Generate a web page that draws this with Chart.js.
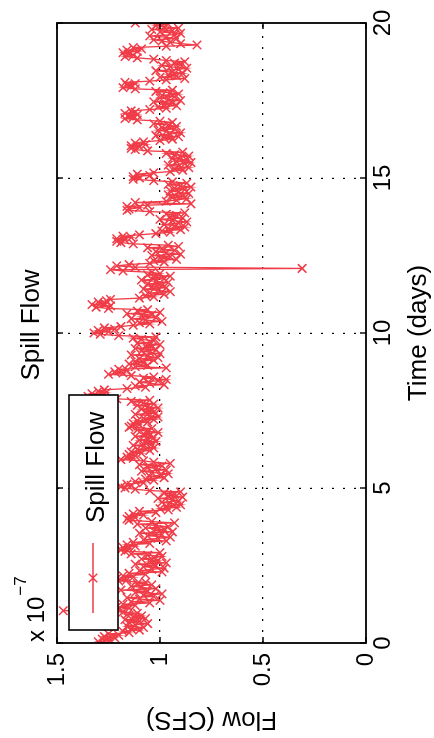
<!DOCTYPE html>
<html lang="en">
<head>
<meta charset="UTF-8">
<title>Spill Flow</title>
<script src="https://cdn.jsdelivr.net/npm/chart.js"></script>
<style>
body {
    margin: 0;
    padding: 0;
    background: #fff;
    overflow: hidden;
}
#page {
    position: relative;
    width: 434px;
    height: 738px;
    overflow: hidden;
}
/* the figure is drawn upright, then turned a quarter turn like the scanned page */
#turn {
    position: absolute;
    left: 0;
    top: 738px;
    width: 738px;
    height: 434px;
    transform-origin: 0 0;
    transform: rotate(-90deg);
}
</style>
</head>
<body>
<div id="page"><div id="turn"><canvas id="spill" width="738" height="434"></canvas></div></div>

<script>
// Spill flow, one row per day, hourly samples, in units of 1e-7 CFS
const spillFlow = [
    [1.26, 1.30, 1.24, 1.28, 1.22, 1.27, 1.20, 1.25, 1.15, 1.18, 1.10, 1.14, 1.08, 1.16, 1.12, 1.06, 1.15, 1.10, 1.17, 1.07, 1.13, 1.09, 1.16, 1.11],
    [1.18, 1.47, 1.20, 1.15, 1.21, 1.12, 1.18, 1.05, 1.14, 1.00, 1.10, 1.16, 1.03, 1.08, 0.99, 1.12, 1.06, 1.19, 1.02, 1.09, 1.14, 1.04, 1.11, 1.07],
    [1.20, 1.16, 1.21, 1.13, 1.18, 1.07, 1.15, 0.99, 1.10, 1.04, 0.98, 1.08, 1.02, 1.12, 0.97, 1.05, 1.01, 1.09, 1.03, 0.99, 1.06, 1.14, 1.00, 1.17],
    [1.19, 1.15, 1.18, 1.12, 1.16, 1.05, 1.13, 0.97, 1.08, 1.01, 0.95, 1.06, 0.99, 1.10, 0.94, 1.03, 0.98, 1.07, 0.96, 1.02, 1.11, 0.93, 1.04, 1.15],
    [1.16, 1.12, 1.15, 1.08, 1.13, 1.02, 1.10, 0.96, 1.00, 0.92, 0.97, 0.90, 0.95, 0.99, 0.91, 0.94, 1.01, 0.89, 0.96, 0.93, 0.98, 0.90, 1.05, 1.12],
    [1.17, 1.19, 1.14, 1.16, 1.08, 1.12, 1.03, 1.07, 0.98, 1.05, 1.00, 0.96, 1.04, 1.09, 0.97, 1.02, 1.06, 0.99, 1.10, 0.95, 1.03, 1.08, 1.19, 1.13],
    [1.16, 1.12, 1.15, 1.09, 1.14, 1.05, 1.11, 1.03, 1.08, 1.13, 1.04, 1.07, 1.02, 1.10, 1.06, 1.03, 1.12, 1.05, 1.08, 1.01, 1.06, 1.11, 1.04, 1.15],
    [1.14, 1.10, 1.13, 1.06, 1.11, 1.03, 1.08, 1.01, 1.05, 1.12, 1.02, 1.07, 1.04, 1.09, 1.01, 1.06, 1.11, 1.03, 1.08, 1.14, 1.05, 1.21, 1.30, 1.35],
    [1.28, 1.33, 1.26, 1.30, 1.27, 1.16, 1.07, 1.12, 0.98, 1.05, 1.10, 1.01, 0.97, 1.08, 1.03, 1.14, 1.25, 1.18, 1.22, 1.16, 1.20, 0.97, 1.12, 1.06],
    [1.15, 1.08, 1.12, 1.03, 1.10, 1.01, 1.06, 1.14, 1.00, 1.05, 1.09, 1.02, 1.12, 1.04, 1.07, 1.00, 1.11, 1.05, 1.03, 1.09, 1.13, 1.02, 1.20, 1.29],
    [1.32, 1.25, 1.30, 1.22, 1.27, 1.19, 1.13, 1.05, 1.10, 0.99, 1.07, 1.14, 1.02, 1.09, 1.04, 1.16, 1.00, 1.11, 1.06, 1.25, 1.31, 1.24, 1.33, 1.27],
    [1.30, 1.26, 1.24, 1.10, 1.03, 1.07, 0.98, 1.05, 0.95, 1.01, 1.08, 0.97, 1.04, 0.99, 1.06, 0.96, 1.02, 1.09, 0.98, 1.03, 0.95, 1.06, 1.00, 1.04],
    [1.18, 1.24, 0.31, 1.12, 1.21, 1.15, 1.05, 0.98, 1.03, 0.92, 1.00, 0.95, 1.04, 0.90, 0.97, 1.02, 0.93, 0.99, 1.06, 0.91, 0.96, 1.13, 1.19, 1.21],
    [1.17, 1.21, 1.14, 1.18, 1.10, 1.02, 0.95, 0.99, 0.90, 0.96, 0.88, 0.93, 0.98, 0.91, 0.87, 0.94, 1.00, 0.89, 0.95, 0.92, 0.97, 0.88, 1.05, 1.16],
    [1.15, 1.10, 1.16, 1.06, 0.85, 1.12, 0.97, 0.92, 0.87, 0.94, 0.89, 0.96, 0.86, 0.91, 0.95, 0.88, 0.93, 0.85, 0.90, 0.96, 0.87, 0.94, 1.03, 1.13],
    [1.10, 1.13, 1.05, 1.11, 1.03, 0.95, 0.89, 0.93, 0.86, 0.91, 0.96, 0.88, 0.85, 0.92, 0.87, 0.94, 0.90, 0.86, 0.93, 0.97, 0.89, 1.06, 1.12, 1.14],
    [1.10, 1.14, 1.07, 1.12, 1.08, 1.00, 0.94, 0.98, 0.91, 1.02, 0.95, 0.90, 0.97, 1.01, 0.93, 0.99, 0.92, 0.96, 1.03, 0.94, 1.00, 1.11, 1.17, 1.13],
    [1.15, 1.11, 1.17, 1.12, 1.14, 1.05, 0.97, 1.01, 0.92, 0.98, 0.94, 1.03, 0.90, 0.96, 1.00, 0.93, 0.99, 0.91, 0.95, 1.02, 0.94, 1.12, 1.18, 1.14],
    [1.16, 1.12, 1.17, 1.05, 0.97, 0.88, 1.00, 0.92, 0.96, 0.89, 0.94, 1.02, 0.91, 0.87, 0.95, 0.99, 0.90, 0.93, 0.88, 0.97, 1.03, 1.11, 1.17, 1.13],
    [1.15, 1.18, 1.11, 1.16, 1.09, 1.13, 0.97, 0.82, 0.90, 0.95, 0.99, 1.03, 0.92, 0.97, 1.05, 0.93, 0.90, 1.00, 0.94, 1.04, 0.91, 0.98, 1.02, 0.96]
];
const lastFlow = 1.12;          // sample at t = 20 days
const samplesPerDay = 24;
const timeTicks = [0, 5, 10, 15, 20];
const flowTicks = [0, 0.5, 1, 1.5];
const seriesName = 'Spill Flow';
const FONT = '"Liberation Sans", Arial, sans-serif';
const RED = 'rgb(240, 60, 72)';

// hourly points: day index + hour / 24
const points = [];
spillFlow.forEach((day, d) => {
    day.forEach((q, h) => points.push({ x: d + h / samplesPerDay, y: q }));
});
points.push({ x: spillFlow.length, y: lastFlow });

function drawCross(ctx, x, y, r) {
    ctx.moveTo(x - r, y - r); ctx.lineTo(x + r, y + r);
    ctx.moveTo(x - r, y + r); ctx.lineTo(x + r, y - r);
}

// box, inward ticks, legend, title and the x10^-7 note
const figureParts = {
    id: 'figureParts',
    afterDatasetsDraw(chart) {
        const { ctx, chartArea: a, scales: { x, y } } = chart;
        ctx.save();
        ctx.strokeStyle = '#000';
        ctx.lineWidth = 1.8;
        ctx.strokeRect(a.left, a.top, a.right - a.left, a.bottom - a.top);

        ctx.lineWidth = 1.4;
        ctx.beginPath();
        timeTicks.forEach(t => {
            const px = x.getPixelForValue(t);
            ctx.moveTo(px, a.bottom); ctx.lineTo(px, a.bottom - 6);
            ctx.moveTo(px, a.top); ctx.lineTo(px, a.top + 6);
        });
        flowTicks.forEach(q => {
            const py = y.getPixelForValue(q);
            ctx.moveTo(a.left, py); ctx.lineTo(a.left + 6, py);
            ctx.moveTo(a.right, py); ctx.lineTo(a.right - 6, py);
        });
        ctx.stroke();

        // legend
        const lx = a.left + 13, ly = a.top + 12, lw = 235, lh = 49;
        ctx.fillStyle = '#fff';
        ctx.fillRect(lx, ly, lw, lh);
        ctx.lineWidth = 1.6;
        ctx.strokeStyle = '#000';
        ctx.strokeRect(lx, ly, lw, lh);
        ctx.strokeStyle = RED;
        ctx.lineWidth = 1.4;
        ctx.beginPath();
        ctx.moveTo(lx + 17, ly + 24); ctx.lineTo(lx + 87, ly + 24);
        drawCross(ctx, lx + 52, ly + 24, 4.3);
        ctx.stroke();
        ctx.fillStyle = '#000';
        ctx.font = '26px ' + FONT;
        ctx.textAlign = 'left';
        ctx.textBaseline = 'alphabetic';
        ctx.fillText(seriesName, lx + 107, ly + 35);

        // title
        ctx.textAlign = 'center';
        ctx.fillText(seriesName, (a.left + a.right) / 2 + 8, 39);

        // exponent of the flow axis
        ctx.textAlign = 'left';
        ctx.font = '24px ' + FONT;
        ctx.fillText('x 10', a.left + 1, 44);
        const w = ctx.measureText('x 10').width;
        ctx.font = '17px ' + FONT;
        ctx.fillText('\u22127', a.left + 2 + w, 26);
        ctx.restore();
    }
};

const hideEdge = (lo, hi) => c => (c.tick && (c.tick.value === lo || c.tick.value === hi)) ? 'rgba(0,0,0,0)' : '#000';

new Chart(document.getElementById('spill'), {
    type: 'line',
    data: {
        datasets: [{
            label: seriesName,
            data: points,
            borderColor: RED,
            borderWidth: 1.3,
            pointStyle: 'crossRot',
            pointRadius: 6,
            pointBorderColor: RED,
            pointBorderWidth: 1.5,
            pointBackgroundColor: RED,
            tension: 0,
            fill: false
        }]
    },
    options: {
        responsive: false,
        animation: false,
        events: [],
        layout: { padding: { top: 57, right: 23, left: 0, bottom: 0 } },
        plugins: { legend: { display: false }, title: { display: false }, tooltip: { enabled: false } },
        scales: {
            x: {
                type: 'linear',
                min: 0,
                max: 20,
                afterBuildTicks: s => { s.ticks = timeTicks.map(v => ({ value: v })); },
                afterFit: s => { s.height = 68; },
                grid: { color: hideEdge(0, 20), lineWidth: 1.2, drawTicks: false },
                border: { display: false, dash: [2, 9] },
                ticks: { color: '#000', padding: 3, maxRotation: 0, font: { family: FONT, size: 24 }, callback: v => String(v) },
                title: { display: true, text: 'Time (days)', color: '#000', padding: { top: 0, bottom: 0 }, font: { family: FONT, size: 26 } }
            },
            y: {
                type: 'linear',
                min: 0,
                max: 1.5,
                afterBuildTicks: s => { s.ticks = flowTicks.map(v => ({ value: v })); },
                afterFit: s => { s.width = 95; },
                grid: { color: hideEdge(0, 1.5), lineWidth: 1.2, drawTicks: false },
                border: { display: false, dash: [2, 9] },
                ticks: { color: '#000', padding: 10, font: { family: FONT, size: 24 }, callback: v => String(v) },
                title: { display: true, text: 'Flow (CFS)', color: '#000', padding: { top: 3, bottom: 0 }, font: { family: FONT, size: 26 } }
            }
        }
    },
    plugins: [figureParts]
});
</script>
</body>
</html>
